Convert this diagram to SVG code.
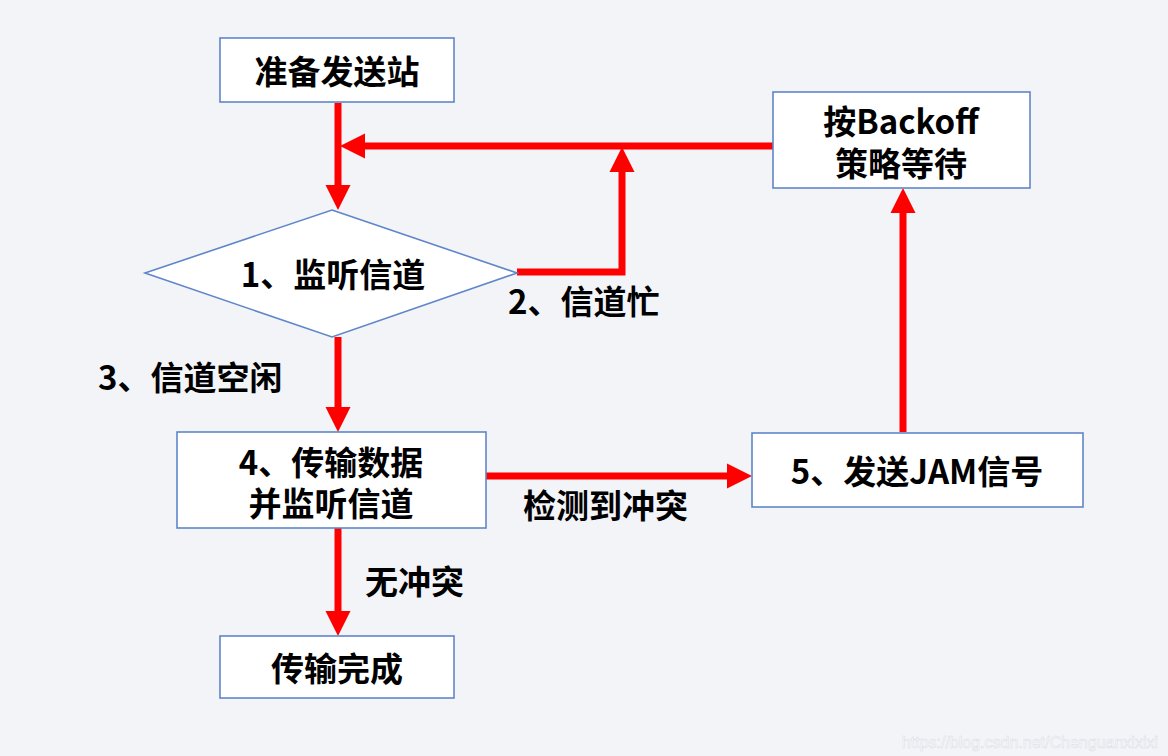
<svg xmlns="http://www.w3.org/2000/svg" width="1168" height="756" viewBox="0 0 1168 756">
<defs>
<style>
.box{fill:#ffffff;stroke:#5f86c9;stroke-width:1.6}
.t{font-family:"Noto Sans CJK SC","Noto Sans",sans-serif;font-weight:bold;font-size:33px;fill:#000;text-anchor:middle;dominant-baseline:central}
.lbl{font-family:"Noto Sans CJK SC","Noto Sans",sans-serif;font-weight:bold;font-size:33px;fill:#000;dominant-baseline:central}
.c{fill:none;stroke:#ff0000;stroke-width:7;stroke-linejoin:miter}
</style>
<marker id="ah" markerUnits="userSpaceOnUse" markerWidth="26" markerHeight="26" refX="0" refY="12.5" orient="auto" overflow="visible">
<path d="M0,0 L25,12.5 L0,25 Z" fill="#ff0000"/>
</marker>
</defs>
<rect width="1168" height="756" fill="#f2f4f8"/>
<g id="connectors">
<line class="c" x1="338" y1="103" x2="338" y2="185" marker-end="url(#ah)"/>
<line class="c" x1="773" y1="146" x2="365" y2="146" marker-end="url(#ah)"/>
<polyline class="c" points="517,272 622,272 622,172" marker-end="url(#ah)"/>
<line class="c" x1="338" y1="337" x2="338" y2="407" marker-end="url(#ah)"/>
<line class="c" x1="486" y1="476" x2="727" y2="476" marker-end="url(#ah)"/>
<line class="c" x1="903" y1="432" x2="903" y2="213" marker-end="url(#ah)"/>
<line class="c" x1="338" y1="528" x2="338" y2="611" marker-end="url(#ah)"/>
</g>
<g id="labels">
<text class="lbl" x="508" y="300">2、信道忙</text>
<text class="lbl" x="98" y="376">3、信道空闲</text>
<text class="lbl" x="523" y="504">检测到冲突</text>
<text class="lbl" x="365" y="580">无冲突</text>
</g>
<g id="start">
<rect class="box" x="220" y="38" width="234" height="64"/>
<text class="t" x="337" y="70">准备发送站</text>
</g>
<g id="listen">
<polygon class="box" points="332,210 517,273 332,337 145,273"/>
<text class="t" x="333" y="273">1、监听信道</text>
</g>
<g id="backoff">
<rect class="box" x="773" y="92" width="257" height="96"/>
<text class="t" x="901" y="120">按Backoff</text>
<text class="t" x="901" y="162">策略等待</text>
</g>
<g id="transmit">
<rect class="box" x="177" y="432" width="309" height="96"/>
<text class="t" x="331" y="461">4、传输数据</text>
<text class="t" x="331" y="502">并监听信道</text>
</g>
<g id="jam">
<rect class="box" x="752" y="433" width="331" height="74"/>
<text class="t" x="917" y="470">5、发送JAM信号</text>
</g>
<g id="done">
<rect class="box" x="220" y="636" width="234" height="62"/>
<text class="t" x="337" y="667">传输完成</text>
</g>
<text x="1158" y="742" font-family="Liberation Sans, Arial, sans-serif" font-size="16" fill="#fbfcfd" stroke="#d9dce3" stroke-width="0.5" text-anchor="end" dominant-baseline="central">https://blog.csdn.net/Chenguanxixixi</text>
</svg>
